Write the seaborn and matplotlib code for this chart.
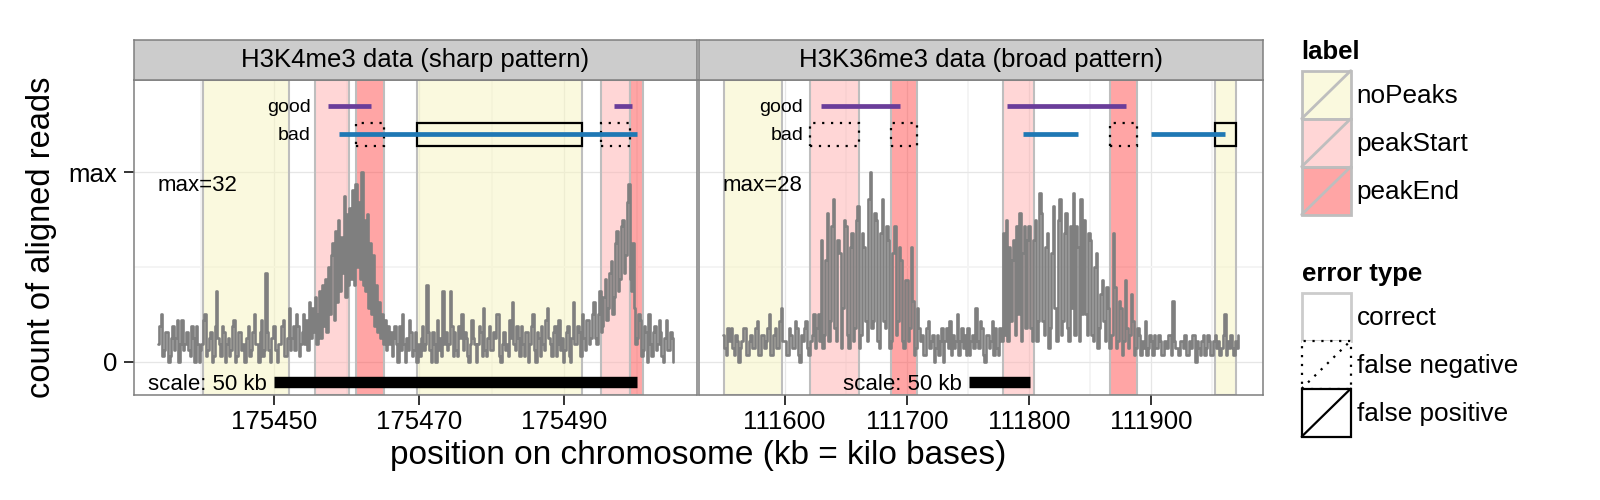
import numpy as np
import pandas as pd
import seaborn as sns
import matplotlib.pyplot as plt
from matplotlib.colors import to_rgba
from matplotlib.patches import Patch, Rectangle
from matplotlib.lines import Line2D
from matplotlib.legend_handler import HandlerBase

# ---- data -------------------------------------------------------------
panel_titles = ["H3K4me3 data (sharp pattern)", "H3K36me3 data (broad pattern)"]
max_counts = [32, 28]
x_limits = [(175430.7, 175508.3), (111530.2, 111991.1)]
x_ticks = [[175450, 175470, 175490], [111600, 111700, 111800, 111900]]
x_minor = [[175440, 175460, 175480, 175500], [111550, 111650, 111750, 111850, 111950]]

# coverage: position of first bin (kb), bin width (kb), counts per bin
cov_start = [175434.0, 111549.5]
cov_step = [0.2, 1.25]
cov_left = [
    3, 6, 8, 1, 2, 5, 5, 0, 1, 4, 6, 2, 4, 7, 0, 3, 7, 2, 3, 5,
    5, 2, 1, 6, 4, 0, 6, 3, 0, 2, 3, 7, 8, 1, 2, 4, 5, 0, 1, 6,
    12, 4, 3, 1, 6, 5, 0, 3, 4, 1, 2, 6, 7, 0, 1, 5, 5, 2, 3, 0,
    0, 4, 6, 1, 2, 5, 8, 3, 3, 0, 5, 7, 1, 2, 15, 5, 2, 0, 4, 6,
    6, 2, 0, 3, 3, 6, 7, 1, 1, 4, 9, 2, 4, 6, 2, 8, 6, 1, 3, 5,
    8, 3, 7, 2, 10, 4, 9, 5, 11, 3, 8, 12, 4, 13, 6, 14, 5, 16, 8, 18,
    20, 7, 22, 10, 24, 12, 21, 15, 28, 11, 25, 13, 26, 14, 29, 13, 30, 16, 27, 14,
    32, 13, 24, 12, 25, 9, 20, 8, 18, 6, 13, 5, 10, 4, 8, 3, 7, 2, 6, 3,
    5, 1, 4, 6, 3, 0, 6, 2, 8, 3, 0, 4, 2, 7, 5, 1, 2, 5, 0, 3,
    1, 4, 6, 2, 3, 13, 5, 2, 0, 5, 3, 0, 7, 2, 4, 1, 12, 3, 5, 2,
    3, 12, 6, 1, 5, 2, 1, 6, 4, 8, 2, 5, 4, 1, 0, 3, 7, 4, 3, 0,
    3, 6, 5, 1, 9, 2, 1, 4, 6, 2, 2, 5, 4, 8, 8, 1, 0, 3, 5, 2,
    3, 1, 7, 4, 10, 3, 2, 6, 4, 1, 6, 3, 1, 5, 5, 0, 3, 6, 8, 2,
    0, 5, 4, 1, 6, 3, 2, 7, 9, 4, 3, 1, 5, 6, 1, 3, 7, 2, 4, 0,
    2, 5, 6, 1, 0, 4, 10, 3, 3, 6, 5, 1, 8, 4, 2, 7, 7, 3, 4, 8,
    10, 4, 3, 8, 12, 5, 6, 11, 14, 7, 9, 15, 17, 8, 11, 20, 22, 12, 14, 23,
    24, 15, 18, 27, 30, 14, 12, 20, 9, 3, 4, 8, 7, 1, 2, 6, 5, 0, 8, 3,
    1, 5, 6, 2, 3, 7, 5, 1, 0, 4, 7, 2, 2, 5, 4, 0,
]
cov_right = [
    4, 2, 1, 5, 3, 5, 2, 1, 4, 3, 0, 2, 3, 5, 5, 1, 1, 3, 4, 2,
    2, 5, 6, 1, 1, 4, 4, 2, 3, 5, 7, 1, 1, 4, 5, 2, 2, 6, 8, 3,
    3, 1, 1, 5, 4, 2, 2, 6, 5, 1, 0, 4, 3, 5, 6, 2, 1, 3, 4, 7,
    2, 5, 7, 3, 18, 2, 4, 15, 22, 3, 6, 20, 24, 5, 3, 18, 16, 2, 8, 21,
    20, 4, 2, 17, 19, 3, 5, 21, 23, 2, 4, 19, 17, 6, 3, 24, 28, 5, 6, 22,
    21, 3, 2, 19, 24, 6, 5, 20, 18, 2, 3, 16, 20, 4, 6, 17, 15, 3, 2, 12,
    12, 3, 5, 17, 9, 1, 2, 8, 5, 3, 4, 1, 1, 5, 6, 2, 3, 4, 0, 2,
    4, 1, 3, 5, 0, 3, 5, 2, 6, 1, 4, 2, 3, 7, 1, 3, 5, 2, 4, 1,
    5, 1, 3, 4, 2, 8, 3, 2, 6, 5, 1, 0, 4, 4, 2, 3, 6, 1, 5, 2,
    1, 5, 3, 19, 4, 21, 3, 17, 6, 15, 18, 4, 20, 7, 22, 3, 16, 20, 5, 18,
    20, 5, 3, 18, 21, 3, 6, 25, 22, 6, 4, 17, 19, 2, 5, 16, 23, 8, 3, 21,
    24, 4, 6, 19, 22, 5, 3, 20, 8, 25, 4, 20, 17, 3, 24, 7, 21, 7, 4, 19,
    18, 4, 3, 14, 16, 2, 5, 10, 12, 6, 3, 11, 8, 2, 4, 19, 11, 2, 3, 9,
    8, 1, 3, 12, 5, 2, 4, 10, 6, 1, 2, 5, 4, 1, 3, 2, 6, 1, 2, 4,
    3, 1, 4, 2, 2, 4, 3, 1, 1, 3, 2, 4, 4, 1, 9, 3, 2, 2, 1, 3,
    3, 2, 4, 1, 1, 3, 2, 4, 4, 0, 3, 2, 1, 3, 4, 1, 2, 4, 3, 1,
    1, 3, 4, 2, 3, 1, 2, 4, 7, 1, 3, 2, 4, 2, 1, 3, 2, 4,
]
cov_counts = [cov_left, cov_right]

# annotated regions
reg_panel = [0, 0, 0, 0, 0, 0, 1, 1, 1, 1, 1, 1]
reg_start = [175440.2, 175455.7, 175461.3, 175469.7, 175495.0, 175499.0,
             111550.1, 111621.1, 111687.4, 111778.3, 111865.9, 111951.8]
reg_end = [175452.1, 175460.4, 175465.1, 175492.5, 175499.0, 175500.8,
           111597.7, 111660.5, 111708.7, 111803.7, 111888.4, 111969.6]
reg_label = ["noPeaks", "peakStart", "peakEnd", "noPeaks", "peakStart", "peakEnd",
             "noPeaks", "peakStart", "peakEnd", "peakStart", "peakEnd", "noPeaks"]
reg_error = ["correct", "correct", "false negative", "false positive", "false negative", "correct",
             "correct", "false negative", "false negative", "correct", "false negative", "false positive"]

# peak calls of the two models
good_panel = [0, 0, 1, 1]
good_start = [175457.5, 175496.8, 111630.1, 111781.8]
good_end = [175463.4, 175499.4, 111694.1, 111879.1]
bad_panel = [0, 1, 1]
bad_start = [175459.0, 111794.9, 111900.1]
bad_end = [175500.0, 111839.6, 111960.0]

scale_start = [175450.0, 111750.5]
scale_kb = 50

label_names = ["noPeaks", "peakStart", "peakEnd"]
label_colors = {"noPeaks": "#f6f4bf", "peakStart": "#ffafaf", "peakEnd": "#ff4c4c"}
error_names = ["correct", "false negative", "false positive"]
error_styles = {"correct": ("#CCCCCC", "-"),
                "false negative": ("black", (0, (1, 3))),
                "false positive": ("black", "-")}

GOOD_Y, BAD_Y = 1.35, 1.2

# ---- style -------------------------------------------------------------
sns.set_theme(style="white")
plt.rcParams["font.family"] = ["Liberation Sans", "DejaVu Sans"]
plt.rcParams["text.color"] = "black"
plt.rcParams["axes.labelcolor"] = "black"

W, H = 1600, 500
fig = plt.figure(figsize=(16, 5), dpi=100)
panel_px = [(134, 697), (699.3, 1262.7)]
top_px, bottom_px, strip_top_px = 80, 395, 40

for p in range(2):
    x0, x1 = panel_px[p]
    ax = fig.add_axes([x0 / W, 1 - bottom_px / H, (x1 - x0) / W, (bottom_px - top_px) / H])
    st = fig.add_axes([x0 / W, 1 - top_px / H, (x1 - x0) / W, (top_px - strip_top_px) / H])

    # regions
    for s, e, lab, pn in zip(reg_start, reg_end, reg_label, reg_panel):
        if pn == p:
            ax.axvspan(s, e, facecolor=to_rgba(label_colors[lab], 0.5),
                       edgecolor="#BEBEBE", lw=1.5, zorder=1)

    # coverage signal
    counts = np.array(cov_counts[p])
    df = pd.DataFrame({"pos": cov_start[p] + cov_step[p] * np.arange(len(counts)),
                       "norm": counts / max_counts[p]})
    sns.lineplot(data=df, x="pos", y="norm", ax=ax, color="#7F7F7F", linewidth=1.9,
                 drawstyle="steps-post", estimator=None, zorder=3)

    # error boxes
    for s, e, err, pn in zip(reg_start, reg_end, reg_error, reg_panel):
        if pn == p and err != "correct":
            col, ls = error_styles[err]
            ax.add_patch(Rectangle((s, BAD_Y - 0.0625), e - s, 0.125, fill=False,
                                   edgecolor=col, linestyle=ls, lw=1.6, zorder=4))

    # peak segments
    for s, e, pn in zip(good_start, good_end, good_panel):
        if pn == p:
            ax.plot([s, e], [GOOD_Y, GOOD_Y], color="#6A3D9A", lw=3.4,
                    solid_capstyle="butt", zorder=5)
    for s, e, pn in zip(bad_start, bad_end, bad_panel):
        if pn == p:
            ax.plot([s, e], [BAD_Y, BAD_Y], color="#1F78B4", lw=3.4,
                    solid_capstyle="butt", zorder=5)
    lab_x = min([s for s, pn in zip(good_start, good_panel) if pn == p] +
                [s for s, pn in zip(bad_start, bad_panel) if pn == p])
    for txt, yy in (("good", GOOD_Y), ("bad", BAD_Y)):
        ax.annotate(txt, xy=(lab_x, yy), xytext=(-13, -4), textcoords="offset points",
                    ha="right", va="baseline", fontsize=14, zorder=6)

    # max label
    ax.text(cov_start[p], 0.903, f"max={max_counts[p]}", ha="left", va="baseline",
            fontsize=16, zorder=6)

    # scale bar
    ax.plot([scale_start[p], scale_start[p] + scale_kb], [-0.106, -0.106], color="black",
            lw=8.2, solid_capstyle="butt", zorder=6)
    ax.annotate(f"scale: {scale_kb} kb", xy=(scale_start[p], -0.106), xytext=(-5, -5.7),
                textcoords="offset points", ha="right", va="baseline", fontsize=16, zorder=6)

    # axes
    ax.set_xlim(*x_limits[p])
    ax.set_ylim(-0.176, 1.487)
    ax.set_xticks(x_ticks[p])
    ax.set_xticklabels([str(t) for t in x_ticks[p]])
    ax.set_xticks(x_minor[p], minor=True)
    ax.set_yticks([0, 1])
    ax.set_yticklabels(["0", "max"])
    ax.set_yticks([0.5], minor=True)
    ax.set_xlabel("")
    ax.set_ylabel("")
    ax.set_axisbelow(True)
    ax.grid(which="major", color="#E6E6E6", lw=0.9)
    ax.grid(which="minor", color="#F4F4F4", lw=1.4)
    ax.tick_params(which="major", direction="out", length=7.5, width=1.4, color="#333333",
                   labelsize=18.5, labelcolor="black", pad=3.5, bottom=True, left=(p == 0),
                   labelleft=(p == 0))
    ax.tick_params(axis="y", pad=4.5)
    ax.tick_params(which="minor", length=0)
    for sp in ax.spines.values():
        sp.set_color("#7F7F7F")
        sp.set_linewidth(1.1)

    # strip
    st.set_facecolor("#CCCCCC")
    st.set_xticks([])
    st.set_yticks([])
    for sp in st.spines.values():
        sp.set_color("#7F7F7F")
        sp.set_linewidth(1.1)
    st.text(0.5, 0.5, panel_titles[p], ha="center", va="center", fontsize=18.5,
            transform=st.transAxes)

fig.text(698.4 / W, 1 - 464 / H, "position on chromosome (kb = kilo bases)",
         ha="center", va="baseline", fontsize=24)
fig.text(42 / W, 1 - 237.5 / H, "count of aligned reads", ha="center", va="center",
         rotation=90, fontsize=23.5)


# ---- legends -----------------------------------------------------------
class KeyHandler(HandlerBase):
    def create_artists(self, legend, orig, xd, yd, w, h, fontsize, trans):
        box = Rectangle((-xd, -yd), w, h, facecolor=orig.get_facecolor(),
                        edgecolor=orig.get_edgecolor(), linewidth=orig.get_linewidth(),
                        linestyle=orig.get_linestyle(), transform=trans)
        arts = [box]
        if orig.get_gid() != "nodiag":
            arts.append(Line2D([-xd, -xd + w], [-yd, -yd + h], color=orig.get_edgecolor(),
                               linewidth=orig.get_linewidth(),
                               linestyle=orig.get_linestyle(), transform=trans))
        return arts


label_handles = [Patch(facecolor=to_rgba(label_colors[n], 0.5), edgecolor="#BEBEBE", lw=2)
                 for n in label_names]
error_handles = []
for n in error_names:
    col, ls = error_styles[n]
    h = Patch(facecolor="white", edgecolor=col, linestyle=ls, lw=1.6 if n != "correct" else 2)
    if n == "correct":
        h.set_gid("nodiag")
    error_handles.append(h)

leg_kw = dict(loc="upper left", bbox_transform=fig.transFigure, frameon=False,
              borderpad=0, borderaxespad=0, labelspacing=0, handlelength=1.88,
              handleheight=2.45, handletextpad=0.23, fontsize=18.8, alignment="left",
              title_fontproperties={"weight": "bold", "size": 18.5},
              labelcolor="black", handler_map={Patch: KeyHandler()})
leg1 = fig.legend(label_handles, label_names, title="label",
                  bbox_to_anchor=(1301.7 / W, 1 - 40 / H), **leg_kw)
leg2 = fig.legend(error_handles, error_names, title="error type",
                  bbox_to_anchor=(1301.7 / W, 1 - 262 / H), **leg_kw)
for lg in (leg1, leg2):
    lg._legend_box.sep = 4.8  # gap between title and keys
    lg.get_title().set_color("black")

fig.savefig("out.png", dpi=100)
